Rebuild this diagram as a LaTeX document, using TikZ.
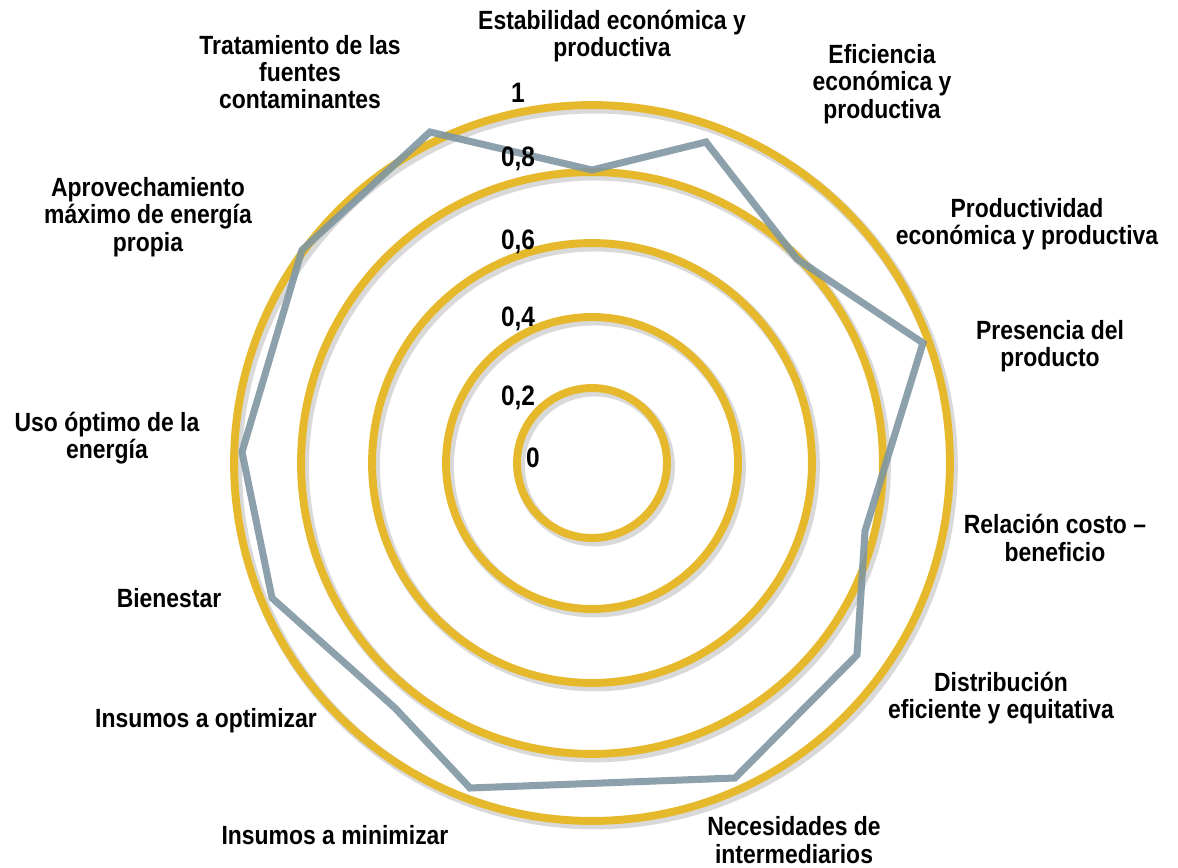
\documentclass[tikz,border=0pt]{standalone}
\usepackage{fontspec}
\newfontfamily\lblfont{Liberation Sans}[FakeStretch=0.87]
\definecolor{ringgold}{HTML}{E6B82B}
\definecolor{linegray}{HTML}{7F97A2}
\begin{document}
\begin{tikzpicture}[x=0.02cm,y=-0.02cm,
    ring/.style={line width=4.5pt,draw=ringgold,
      preaction={draw=black,opacity=0.15,line width=6pt,transform canvas={xshift=1.5pt,yshift=-1.8pt}}},
    dataline/.style={line width=4pt,draw=linegray,opacity=0.9},
    lbl/.style={align=center,inner sep=0pt,font=\lblfont\bfseries\fontsize{15}{15.5}\selectfont},
    tick/.style={inner sep=1pt,font=\lblfont\bfseries\fontsize{16}{16}\selectfont}]
    \useasboundingbox (0,0) rectangle (1178,868);
    \coordinate (c) at (592,463);
    % grid rings
    \draw[ring] (c) circle[radius=1.5cm];
    \draw[ring] (c) circle[radius=2.92cm];
    \draw[ring] (c) circle[radius=4.4cm];
    \draw[ring] (c) circle[radius=5.82cm];
    \draw[ring] (c) circle[radius=7.16cm];
    % data
    \draw[dataline] (592,170) -- (706,142) -- (797,259) -- (923,343) -- (865,531) -- (857,655)
      -- (735,778) -- (470,788) -- (395,708) -- (272,598) -- (242,452) -- (302,250) -- (430,132) -- cycle;
    % axis values
    \node[tick] (v0) at (533,458) {0};
    \node[tick] (v2) at (518,398) {0,2};
    \node[tick] (v4) at (518,319) {0,4};
    \node[tick] (v6) at (518,242) {0,6};
    \node[tick] (v8) at (518,159) {0,8};
    \node[tick] (v10) at (518,93) {1};
    % categories
    \node[lbl] (estab) at (612,36) {Estabilidad económica y\\productiva};
    \node[lbl] (efic) at (882,84) {Eficiencia\\económica y\\productiva};
    \node[lbl] (prod) at (1027,224) {Productividad\\económica y productiva};
    \node[lbl] (pres) at (1050,346) {Presencia del\\producto};
    \node[lbl] (rel) at (1055,538) {Relación costo –\\beneficio};
    \node[lbl] (distr) at (1001,698) {Distribución\\eficiente y equitativa};
    \node[lbl] (nec) at (794,840) {Necesidades de\\intermediarios};
    \node[lbl] (insmin) at (335,835) {Insumos a minimizar};
    \node[lbl] (insopt) at (206,721) {Insumos a optimizar};
    \node[lbl] (bien) at (169,598) {Bienestar};
    \node[lbl] (uso) at (107,438) {Uso óptimo de la\\energía};
    \node[lbl] (aprov) at (148,217) {Aprovechamiento\\máximo de energía\\propia};
    \node[lbl] (trat) at (300,72) {Tratamiento de las\\fuentes\\contaminantes};
\end{tikzpicture}
\end{document}
